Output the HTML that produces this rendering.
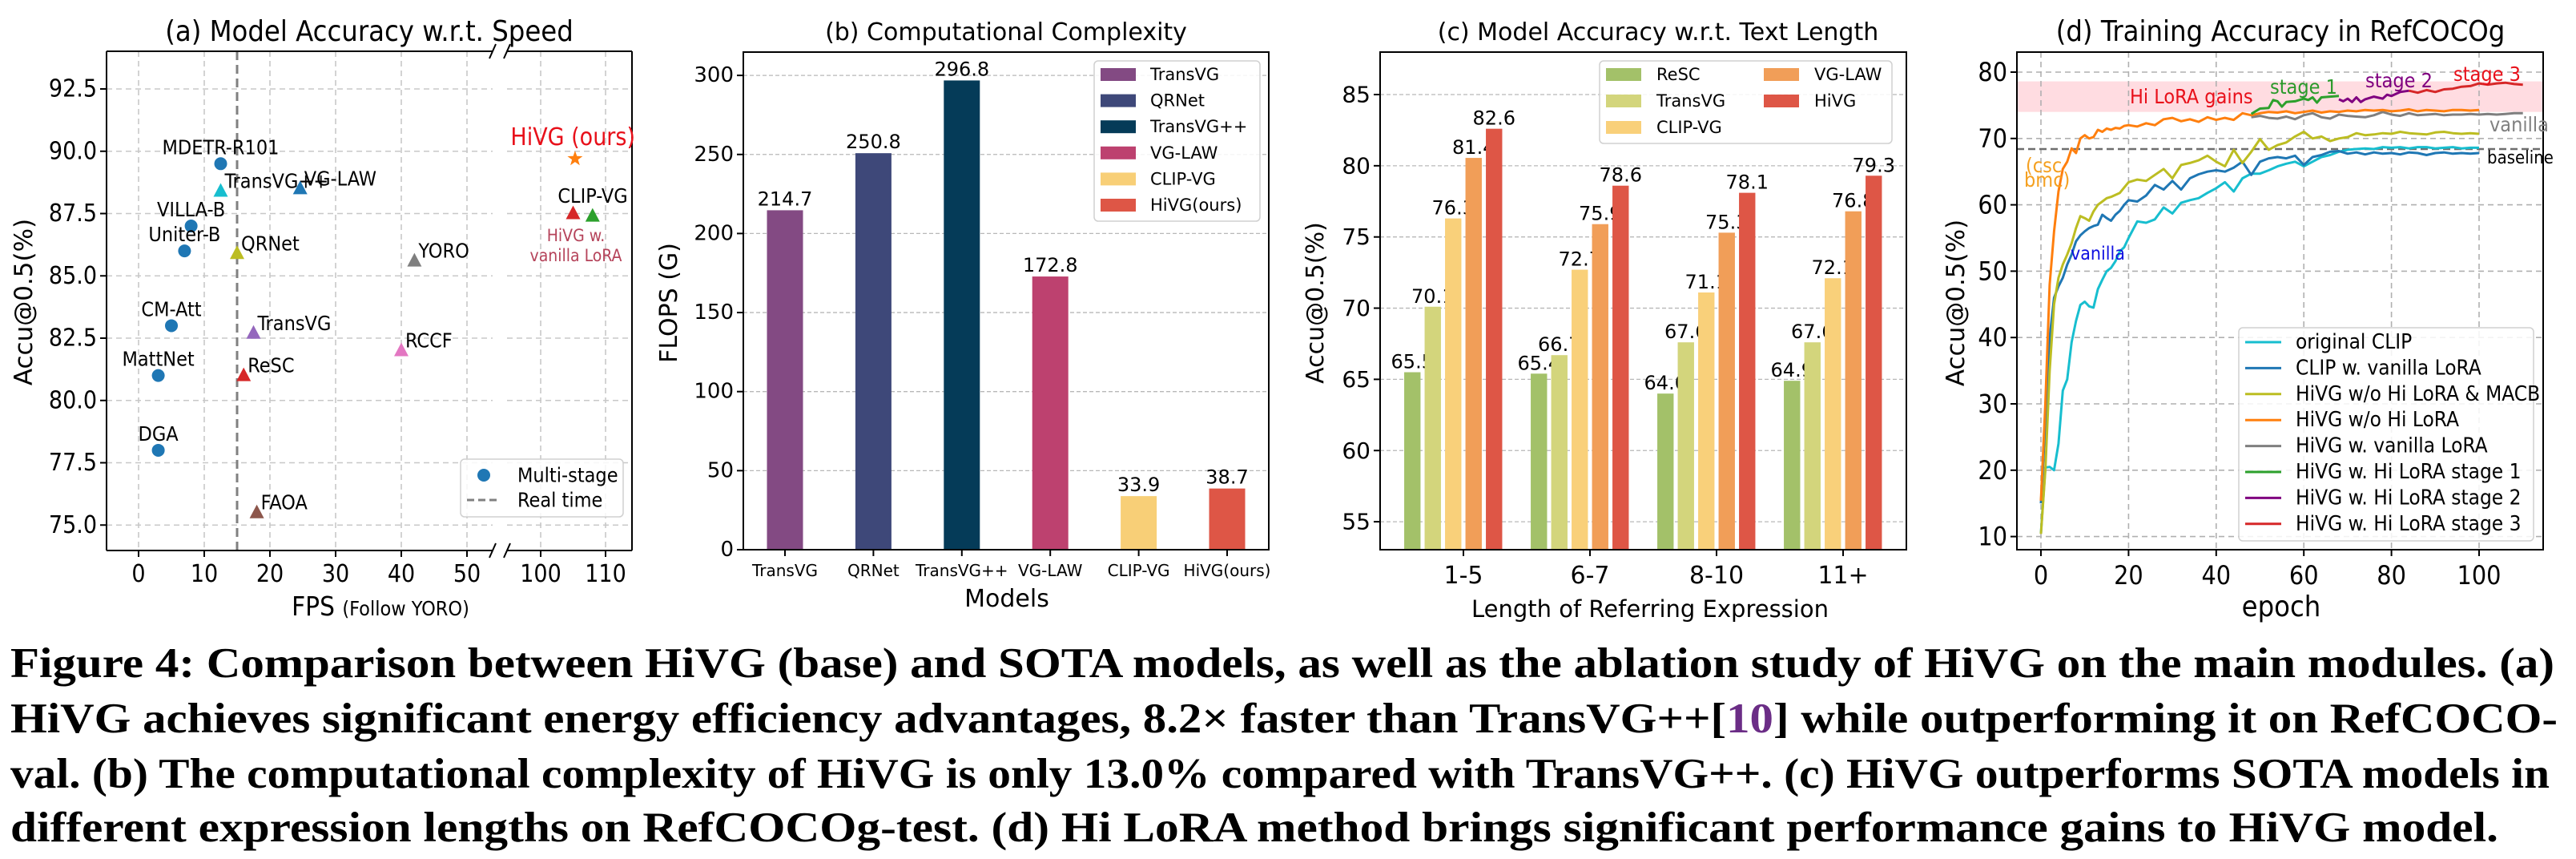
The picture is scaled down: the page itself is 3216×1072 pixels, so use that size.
<!DOCTYPE html>
<html><head><meta charset="utf-8"><title>HiVG Figure 4</title>
<style>
html,body{margin:0;padding:0;background:#fff;}
svg{display:block;}
.cap{font-family:"Liberation Serif",serif;font-weight:bold;font-size:53px;fill:#000;}
</style></head>
<body>
<svg id="fig" xmlns="http://www.w3.org/2000/svg" width="3216" height="1072" viewBox="0 0 3216 1072" font-family="DejaVu Sans, Liberation Sans, sans-serif">
<rect x="0" y="0" width="3216" height="1072" fill="#fff"/>
<g id="pa">
  <text x="461" y="51" font-size="36" text-anchor="middle" font-stretch="condensed">(a) Model Accuracy w.r.t. Speed</text>
  <text transform="translate(40,377) rotate(-90)" font-size="31" text-anchor="middle">Accu@0.5(%)</text>
  <text x="475" y="768" text-anchor="middle" font-stretch="condensed"><tspan font-size="33">FPS </tspan><tspan font-size="25">(Follow YORO)</tspan></text>
</g>
<g id="pb">
  <text x="1256" y="50" font-size="30" text-anchor="middle">(b) Computational Complexity</text>
  <text transform="translate(845,378) rotate(-90)" font-size="30" text-anchor="middle">FLOPS (G)</text>
  <text x="1257" y="757" font-size="30" text-anchor="middle">Models</text>
</g>
<g id="pc">
  <text x="2070" y="50" font-size="30" text-anchor="middle">(c) Model Accuracy w.r.t. Text Length</text>
  <text transform="translate(1652,378) rotate(-90)" font-size="30" text-anchor="middle">Accu@0.5(%)</text>
  <text x="2060" y="770" font-size="29" text-anchor="middle">Length of Referring Expression</text>
</g>
<g id="pd">
  <text x="2847" y="51" font-size="36" text-anchor="middle" font-stretch="condensed">(d) Training Accuracy in RefCOCOg</text>
  <text transform="translate(2452,378) rotate(-90)" font-size="31" text-anchor="middle">Accu@0.5(%)</text>
  <text x="2848" y="769" font-size="36" text-anchor="middle" font-stretch="condensed">epoch</text>
</g>
<g id="caption">
  <text class="cap" x="13" y="845" textLength="3176" lengthAdjust="spacingAndGlyphs">Figure 4: Comparison between HiVG (base) and SOTA models, as well as the ablation study of HiVG on the main modules. (a)</text>
  <text class="cap" x="13" y="914" textLength="3180" lengthAdjust="spacingAndGlyphs">HiVG achieves significant energy efficiency advantages, 8.2× faster than TransVG++[<tspan fill="#6b2d86">10</tspan>] while outperforming it on RefCOCO-</text>
  <text class="cap" x="13" y="983" textLength="3170" lengthAdjust="spacingAndGlyphs">val. (b) The computational complexity of HiVG is only 13.0% compared with TransVG++. (c) HiVG outperforms SOTA models in</text>
  <text class="cap" x="13" y="1050" textLength="3106" lengthAdjust="spacingAndGlyphs">different expression lengths on RefCOCOg-test. (d) Hi LoRA method brings significant performance gains to HiVG model.</text>
</g>
</svg>
<script>
// ---------- Panel (a) data ----------
const aNames = ["MDETR-R101","TransVG++","VG-LAW","VILLA-B","Uniter-B","QRNet","YORO","CM-Att","TransVG","RCCF","MattNet","ReSC","DGA","FAOA","HiVG (ours)","HiVG w. vanilla LoRA","CLIP-VG"];
const aFps = [12.5,12.5,24.6,8,7,15,42,5,17.5,40,3,16,3,18,105.3,105,108];
const aAcc = [89.5,88.4,88.5,87.0,86.0,85.9,85.6,83.0,82.7,82.0,81.0,81.0,78.0,75.5,89.7,87.5,87.4];
const aMarker = ["o","^","^","o","o","^","^","o","^","^","o","^","o","^","*","^","^"];
const aColor = ["#1f77b4","#17becf","#1f77b4","#1f77b4","#1f77b4","#bcbd22","#7f7f7f","#1f77b4","#9467bd","#e377c2","#1f77b4","#d62728","#1f77b4","#8c564b","#ff7f0e","#d62728","#2ca02c"];
const aLabelMode = ["above","right","right","above","above","right","right","above","right","right","above","right","above","right","none","none","none"];
const aXTicksLeft = [0,10,20,30,40,50];
const aXTicksRight = [100,110];
const aYTicks = [75.0,77.5,80.0,82.5,85.0,87.5,90.0,92.5];
const aRealTime = 15;

// ---------- Panel (b) data ----------
const bModels = ["TransVG","QRNet","TransVG++","VG-LAW","CLIP-VG","HiVG(ours)"];
const bFlops = [214.7,250.8,296.8,172.8,33.9,38.7];
const bColors = ["#834a83","#3e4879","#053b58","#bd416f","#f8cf77","#de5646"];
const bYTicks = [0,50,100,150,200,250,300];

// ---------- Panel (c) data ----------
const cGroups = ["1-5","6-7","8-10","11+"];
const cSeriesNames = ["ReSC","TransVG","CLIP-VG","VG-LAW","HiVG"];
const cReSC = [65.5,65.4,64.0,64.9];
const cTransVG = [70.1,66.7,67.6,67.6];
const cCLIPVG = [76.3,72.7,71.1,72.1];
const cVGLAW = [80.55,75.9,75.3,76.8];
const cHiVG = [82.6,78.6,78.1,79.3];
const cVGLAWLabels = ["81.4","75.9","75.3","76.8"];
const cColors = ["#a3c169","#d3d57c","#f9d07a","#f19e58","#de5646"];
const cYTicks = [55,60,65,70,75,80,85];

// ---------- Panel (d) data ----------
const dEpochs = [0,1,2,3,4,5,6,7,8,9,10,11,12,13,14,15,16,17,18,19,20,22,24,26,28,30,32,34,36,38,40,42,44,46,48,50,52,54,56,58,60,62,64,66,68,70,72,74,76,78,80,82,84,86,88,90,92,94,96,98,100];
const dOrigCLIP = [10.5,20.4,20.5,20,24,32,33.7,39.3,42.5,44.9,45.4,44.7,44.5,47.3,48.7,50,50.5,51.5,53,53.6,55,57.5,57.3,57.8,59.6,58.7,60.3,60.7,61,61.8,62.5,63.4,62,64,64.7,64.7,65.2,65.8,66.2,66.5,65.8,66.5,67.2,67.5,68,68.3,68.4,68.5,68.4,68.7,68.6,68.7,68.5,68.7,68.7,68.5,68.6,68.7,68.5,68.6,68.6];
const dClipLora = [15,27,40,46,47.7,49,51,52.5,54.5,55.4,56,56.5,56.8,57,58.5,58,57.6,58.5,59.1,60,60.7,60.5,61.4,63,62.3,63.6,62.3,64,64.6,65,65.2,65,65.6,66.5,64.5,66.5,67,67.2,67,67.4,66,67.2,67.5,68,68.1,67.7,67.9,67.6,67.9,67.7,67.8,67.6,67.9,67.8,67.5,67.8,67.9,67.7,67.8,67.7,67.8];
const dNoHiNoMacb = [10.4,20,35,45,49,51,52.5,54.2,56.5,58.3,58,57.6,59,60,60.5,61,61.2,61.5,61.8,62.6,63.4,63.8,63.6,64.5,65.4,64,66,66.3,66.7,67.4,66.5,65.8,68.3,66.3,68,69.9,68.3,69,69.4,70.3,71,70,70.3,69.6,70,70.2,70.8,70.5,70.6,70.8,70.7,71,70.8,70.7,70.6,70.9,71,70.8,70.7,70.8,70.7];
const dNoHi = [15.4,30,48,56,62,65.4,66.5,68.5,67.8,70,70.5,70,70.2,71.3,71,71.5,71.3,71.6,71.5,71.9,72,71.8,72.3,72,72.9,73.1,72.6,72.9,72.5,73.2,72.8,73.1,72.8,73.8,73.5,73.8,74,73.9,74.1,73.8,74,74.2,73.9,74.1,74,74.2,74.1,74.3,74.2,74.3,74.1,74.2,74.4,74.1,74.3,74.2,74.1,74.3,74.3,74.2,74.3];
const dVanillaEpochs = [48,50,52,54,56,58,60,62,64,66,68,70,72,74,76,78,80,82,84,86,88,90,92,94,96,98,100,102,104,106,108,110];
const dVanilla = [73.2,73.4,73.1,73,73.3,72.9,73.5,73.8,73.2,73,73.6,73.4,73.3,73.2,73.5,74,73.6,73.4,73.8,73.5,73.6,73.7,73.5,73.6,73.6,73.7,73.6,73.7,73.6,73.7,73.8,73.8];
const dStage1Epochs = [48,50,52,53,54,55,56,58,60,61,62,63,64,66,68];
const dStage1 = [73.7,74.5,74.6,75.8,75.6,74.8,75.5,75.6,76,75.8,76.2,75.4,76.2,76.3,76.4];
const dStage2Epochs = [68,69,70,71,72,73,74,76,78,79,80,82,84];
const dStage2 = [75.9,75.6,76,75.5,76.2,75.5,75.9,76.3,76,76.6,76.4,77,77.2];
const dStage3Epochs = [84,86,88,90,92,94,96,98,100,102,104,106,108,110];
const dStage3 = [77.2,76.9,77.3,77,77.4,77.5,77.8,77.9,78.3,78.1,78.3,78.4,78.2,78.1];
const dLegend = ["original CLIP","CLIP w. vanilla LoRA","HiVG w/o Hi LoRA & MACB","HiVG w/o Hi LoRA","HiVG w. vanilla LoRA","HiVG w. Hi LoRA stage 1","HiVG w. Hi LoRA stage 2","HiVG w. Hi LoRA stage 3"];
const dColors = ["#17becf","#1f77b4","#bcbd22","#ff7f0e","#7f7f7f","#2ca02c","#800080","#d62728"];
const dXTicks = [0,20,40,60,80,100];
const dYTicks = [10,20,30,40,50,60,70,80];
const dBaseline = 68.4;
const dGainLow = 74.0;
const dGainHigh = 78.6;

// ---------- helpers ----------
const NS = "http://www.w3.org/2000/svg";
function mk(parent, tag, attrs, text) {
  const el = document.createElementNS(NS, tag);
  for (const k in attrs) el.setAttribute(k, attrs[k]);
  if (text !== undefined) el.textContent = text;
  parent.appendChild(el);
  return el;
}
const GRID = "#c8c8c8";

// ================= Panel (a) =================
(function(){
  const g = document.getElementById("pa");
  const L = 133, R = 789, T = 64, B = 687, BRK1 = 615, BRK2 = 633;
  const xa = f => f < 75 ? 173 + 8.2 * f : 675 + 8.1 * (f - 100);
  const ya = v => 111 + (92.5 - v) * 31.1;
  aYTicks.forEach(v => {
    const l1 = mk(g, "line", {x1:L, x2:BRK1, y1:ya(v), y2:ya(v), stroke:GRID, "stroke-width":1.6, "stroke-dasharray":"7,5"});
    
    
    const l2 = mk(g, "line", {x1:BRK2, x2:R, y1:ya(v), y2:ya(v), stroke:GRID, "stroke-width":1.6, "stroke-dasharray":"7,5"});
    
    
    const tk = mk(g, "line", {x1:L-8, x2:L, y1:ya(v), y2:ya(v), stroke:"#000", "stroke-width":2});
    
    
    const t = mk(g, "text", {x:L-12, y:ya(v), "font-size":30, "text-anchor":"end", "dominant-baseline":"central", "font-stretch":"condensed"}, v.toFixed(1));
    
    
  });
  aXTicksLeft.concat(aXTicksRight).forEach(f => {
    const x = xa(f);
    const l = mk(g, "line", {x1:x, x2:x, y1:T, y2:B, stroke:GRID, "stroke-width":1.6, "stroke-dasharray":"7,5"});
    
    
    const tk = mk(g, "line", {x1:x, x2:x, y1:B, y2:B+8, stroke:"#000", "stroke-width":2});
    
    
    const t = mk(g, "text", {x:x, y:726, "font-size":30, "text-anchor":"middle", "font-stretch":"condensed"}, String(f));
    
    
  });
  const rt = mk(g, "line", {x1:xa(aRealTime), x2:xa(aRealTime), y1:T, y2:B, stroke:"#808080", "stroke-width":3, "stroke-dasharray":"11,6"});
  
  
  [[L,T,BRK1,T],[BRK2,T,R,T],[L,B,BRK1,B],[BRK2,B,R,B],[L,T,L,B],[R,T,R,B]].forEach(s => {
    const f = mk(g, "line", {x1:s[0], y1:s[1], x2:s[2], y2:s[3], stroke:"#000", "stroke-width":2});
    
    
  });
  [[BRK1,T],[BRK2,T],[BRK1,B],[BRK2,B]].forEach(p => {
    const bm = mk(g, "line", {x1:p[0]-4, y1:p[1]+9, x2:p[0]+4, y2:p[1]-9, stroke:"#000", "stroke-width":2});
    
    
  });
  aFps.forEach((f, i) => {
    const x = xa(f), y = ya(aAcc[i]), c = aColor[i];
    let m;
    if (aMarker[i] === "o") m = mk(g, "circle", {cx:x, cy:y, r:8, fill:c});
    else if (aMarker[i] === "^") m = mk(g, "polygon", {points:`${x},${y-10} ${x-9},${y+7} ${x+9},${y+7}`, fill:c});
    else {
      let pts = [];
      for (let k = 0; k < 10; k++) { const r = k % 2 ? 4 : 10, a = -Math.PI/2 + k*Math.PI/5; pts.push((x + r*Math.cos(a)).toFixed(1) + "," + (y + r*Math.sin(a)).toFixed(1)); }
      m = mk(g, "polygon", {points:pts.join(" "), fill:c});
    }
    
    
    if (aLabelMode[i] !== "none") {
      const above = aLabelMode[i] === "above";
      const t = mk(g, "text", {x: above ? x : x + 5, y: above ? y - 12 : y - 4, "font-size":25, "text-anchor": above ? "middle" : "start", "font-stretch":"condensed"}, aNames[i]);
      
      
    }
  });
  const hv = mk(g, "text", {x:793, y:181, "font-size":30, fill:"#e8101a", "text-anchor":"end", "font-stretch":"condensed"}, "HiVG (ours)");
  
  
  const cv = mk(g, "text", {x:740, y:253, "font-size":25, "text-anchor":"middle", "font-stretch":"condensed"}, "CLIP-VG");
  
  
  const hw1 = mk(g, "text", {x:719, y:301, "font-size":21, fill:"#b5435a", "text-anchor":"middle", "font-stretch":"condensed"}, "HiVG w.");
  
  
  const hw2 = mk(g, "text", {x:719, y:326, "font-size":21, fill:"#b5435a", "text-anchor":"middle", "font-stretch":"condensed"}, "vanilla LoRA");
  
  
  const lg = mk(g, "rect", {x:575, y:573, width:203, height:72, rx:5, fill:"#fff", "fill-opacity":0.85, stroke:"#d0d0d0", "stroke-width":1.5});
  
  
  const lc = mk(g, "circle", {cx:604, cy:593, r:8, fill:"#1f77b4"});
  
  
  const lt1 = mk(g, "text", {x:646, y:593, "font-size":25, "dominant-baseline":"central", "font-stretch":"condensed"}, "Multi-stage");
  
  
  const ll = mk(g, "line", {x1:583, x2:625, y1:624, y2:624, stroke:"#808080", "stroke-width":3, "stroke-dasharray":"9,5"});
  
  
  const lt2 = mk(g, "text", {x:646, y:624, "font-size":25, "dominant-baseline":"central", "font-stretch":"condensed"}, "Real time");
  
  
})();

// ================= Panel (b) =================
(function(){
  const g = document.getElementById("pb");
  const L = 928, R = 1584, T = 65, B = 686;
  const yb = v => B - 1.973 * v;
  const xb = i => 980 + 110.4 * i;
  const bw = 45;
  bYTicks.forEach(v => {
    if (v > 0) {
      const gl = mk(g, "line", {x1:L, x2:R, y1:yb(v), y2:yb(v), stroke:"#b8b8b8", "stroke-width":1.3, "stroke-dasharray":"5,3"});
      
      
    }
    const tk = mk(g, "line", {x1:L-8, x2:L, y1:yb(v), y2:yb(v), stroke:"#000", "stroke-width":2});
    
    
    const t = mk(g, "text", {x:L-12, y:yb(v), "font-size":26, "text-anchor":"end", "dominant-baseline":"central"}, String(v));
    
    
  });
  bFlops.forEach((v, i) => {
    const r = mk(g, "rect", {x:xb(i)-bw/2, y:yb(v), width:bw, height:B-yb(v), fill:bColors[i]});
    
    
    const t = mk(g, "text", {x:xb(i), y:yb(v)-6, "font-size":24, "text-anchor":"middle"}, v.toFixed(1));
    
    
    const tk = mk(g, "line", {x1:xb(i), x2:xb(i), y1:B, y2:B+8, stroke:"#000", "stroke-width":2});
    
    
    const xl = mk(g, "text", {x:xb(i), y:719, "font-size":20, "text-anchor":"middle"}, bModels[i]);
    
    
  });
  const fr = mk(g, "rect", {x:L, y:T, width:R-L, height:B-T, fill:"none", stroke:"#000", "stroke-width":2});
  
  
  const lg = mk(g, "rect", {x:1366, y:76, width:207, height:200, rx:5, fill:"#fff", "fill-opacity":0.85, stroke:"#d0d0d0", "stroke-width":1.5});
  
  
  bModels.forEach((m, i) => {
    const y = 93 + 32.6 * i;
    const p = mk(g, "rect", {x:1374, y:y-8, width:44, height:16, fill:bColors[i]});
    
    
    const t = mk(g, "text", {x:1436, y:y, "font-size":21, "dominant-baseline":"central"}, m);
    
    
  });
})();

// ================= Panel (c) =================
(function(){
  const g = document.getElementById("pc");
  const L = 1723, R = 2380, T = 65, B = 686;
  const yc = v => 118 + (85 - v) * 17.77;
  const xc = k => 1827 + 158 * k;
  const step = 25.5, bw = 20.4;
  const series = [cReSC, cTransVG, cCLIPVG, cVGLAW, cHiVG];
  cYTicks.forEach(v => {
    const gl = mk(g, "line", {x1:L, x2:R, y1:yc(v), y2:yc(v), stroke:"#b8b8b8", "stroke-width":1.3, "stroke-dasharray":"5,3"});
    
    
    const tk = mk(g, "line", {x1:L-8, x2:L, y1:yc(v), y2:yc(v), stroke:"#000", "stroke-width":2});
    
    
    const t = mk(g, "text", {x:L-12, y:yc(v), "font-size":28, "text-anchor":"end", "dominant-baseline":"central"}, String(v));
    
    
  });
  cGroups.forEach((grp, k) => {
    series.forEach((s, i) => {
      const cx = xc(k) + (i - 2.5) * step;
      const top = Math.max(yc(s[k]), T);
      const r = mk(g, "rect", {x:cx-bw/2, y:top, width:bw, height:B-top, fill:cColors[i]});
      
      
      const lab = i === 3 ? cVGLAWLabels[k] : s[k].toFixed(1);
      const t = mk(g, "text", {x:cx, y:top-5, "font-size":24, "text-anchor":"middle"}, lab);
      
      
    });
    const tk = mk(g, "line", {x1:xc(k), x2:xc(k), y1:B, y2:B+8, stroke:"#000", "stroke-width":2});
    
    
    const xl = mk(g, "text", {x:xc(k), y:728, "font-size":30, "text-anchor":"middle"}, grp);
    
    
  });
  const fr = mk(g, "rect", {x:L, y:T, width:R-L, height:B-T, fill:"none", stroke:"#000", "stroke-width":2});
  
  
  const lg = mk(g, "rect", {x:1997, y:76, width:365, height:103, rx:5, fill:"#fff", "fill-opacity":0.85, stroke:"#d0d0d0", "stroke-width":1.5});
  
  
  cSeriesNames.forEach((n, i) => {
    const col = i < 3 ? 0 : 1, row = i < 3 ? i : i - 3;
    const px = col ? 2202 : 2005, tx = col ? 2265 : 2068, y = 93 + 33 * row;
    const p = mk(g, "rect", {x:px, y:y-8, width:44, height:16, fill:cColors[i]});
    
    
    const t = mk(g, "text", {x:tx, y:y, "font-size":21, "dominant-baseline":"central"}, n);
    
    
  });
})();

// ================= Panel (d) =================
(function(){
  const g = document.getElementById("pd");
  const L = 2518, R = 3175, T = 65, B = 686;
  const yd = v => 90 + (80 - v) * 8.28;
  const xd = e => 2548 + 5.47 * e;
  const defs = mk(g, "defs", {});
  const cp = mk(defs, "clipPath", {id:"dclip"});
  mk(cp, "rect", {x:L, y:T, width:R-L, height:B-T});
  const band = mk(g, "rect", {x:L, y:yd(dGainHigh), width:R-L, height:yd(dGainLow)-yd(dGainHigh), fill:"#ffd6dc", "fill-opacity":0.85});
  
  
  dYTicks.forEach(v => {
    const gl = mk(g, "line", {x1:L, x2:R, y1:yd(v), y2:yd(v), stroke:"#b0b0b0", "stroke-width":1.6, "stroke-dasharray":"7,5"});
    
    
    const tk = mk(g, "line", {x1:L-8, x2:L, y1:yd(v), y2:yd(v), stroke:"#000", "stroke-width":2});
    
    
    const t = mk(g, "text", {x:L-12, y:yd(v), "font-size":32, "text-anchor":"end", "dominant-baseline":"central", "font-stretch":"condensed"}, String(v));
    
    
  });
  dXTicks.forEach(e => {
    const gl = mk(g, "line", {x1:xd(e), x2:xd(e), y1:T, y2:B, stroke:"#b0b0b0", "stroke-width":1.6, "stroke-dasharray":"7,5"});
    
    
    const tk = mk(g, "line", {x1:xd(e), x2:xd(e), y1:B, y2:B+8, stroke:"#000", "stroke-width":2});
    
    
    const t = mk(g, "text", {x:xd(e), y:729, "font-size":32, "text-anchor":"middle", "font-stretch":"condensed"}, String(e));
    
    
  });
  const bl = mk(g, "line", {x1:L, x2:R, y1:yd(dBaseline), y2:yd(dBaseline), stroke:"#6e6e6e", "stroke-width":2.5, "stroke-dasharray":"9,5"});
  
  
  const cg = mk(g, "g", {"clip-path":"url(#dclip)"});
  const curves = [
    [dEpochs, dOrigCLIP, 0, "original-clip"],
    [dEpochs, dClipLora, 1, "clip-vanilla-lora"],
    [dEpochs, dNoHiNoMacb, 2, "hivg-no-hilora-macb"],
    [dVanillaEpochs, dVanilla, 4, "hivg-vanilla-lora"],
    [dEpochs, dNoHi, 3, "hivg-no-hilora"],
    [dStage1Epochs, dStage1, 5, "hivg-hilora-stage-1"],
    [dStage2Epochs, dStage2, 6, "hivg-hilora-stage-2"],
    [dStage3Epochs, dStage3, 7, "hivg-hilora-stage-3"]
  ];
  curves.forEach(c => {
    const pts = c[0].map((e, i) => xd(e).toFixed(1) + "," + yd(c[1][i]).toFixed(1)).join(" ");
    const pl = mk(cg, "polyline", {points:pts, fill:"none", stroke:dColors[c[2]], "stroke-width":3, "stroke-linejoin":"round"});
    
    
  });
  const fr = mk(g, "rect", {x:L, y:T, width:R-L, height:B-T, fill:"none", stroke:"#000", "stroke-width":2});
  
  
  const ann = [
    ["Hi LoRA gains", 2659, 129, "#e8101a", 25, "ann-hi-lora-gains"],
    ["stage 1", 2834, 117, "#2a9a2a", 25, "ann-stage-1"],
    ["stage 2", 2953, 109, "#800080", 25, "ann-stage-2"],
    ["stage 3", 3063, 101, "#e8101a", 25, "ann-stage-3"],
    ["vanilla", 3108, 164, "#808080", 25, "ann-vanilla-gray"],
    ["baseline", 3105, 204, "#000", 22, "ann-baseline"],
    ["(csc", 2529, 215, "#f5a020", 25, "ann-csc"],
    ["bmc)", 2527, 233, "#f5a020", 25, "ann-bmc"],
    ["vanilla", 2585, 324, "#1010e0", 23, "ann-vanilla-blue"]
  ];
  ann.forEach(a => {
    const t = mk(g, "text", {x:a[1], y:a[2], fill:a[3], "font-size":a[4], "font-stretch":"condensed"}, a[0]);
    
    
  });
  const lg = mk(g, "rect", {x:2795, y:409, width:368, height:266, rx:5, fill:"#fff", "fill-opacity":0.85, stroke:"#d0d0d0", "stroke-width":1.5});
  
  
  dLegend.forEach((n, i) => {
    const y = 427 + 32.4 * i;
    const ln = mk(g, "line", {x1:2803, x2:2848, y1:y, y2:y, stroke:dColors[i], "stroke-width":3});
    
    
    const t = mk(g, "text", {x:2866, y:y, "font-size":26, "dominant-baseline":"central", "font-stretch":"condensed"}, n);
    
    
  });
})();
</script>
</body></html>
